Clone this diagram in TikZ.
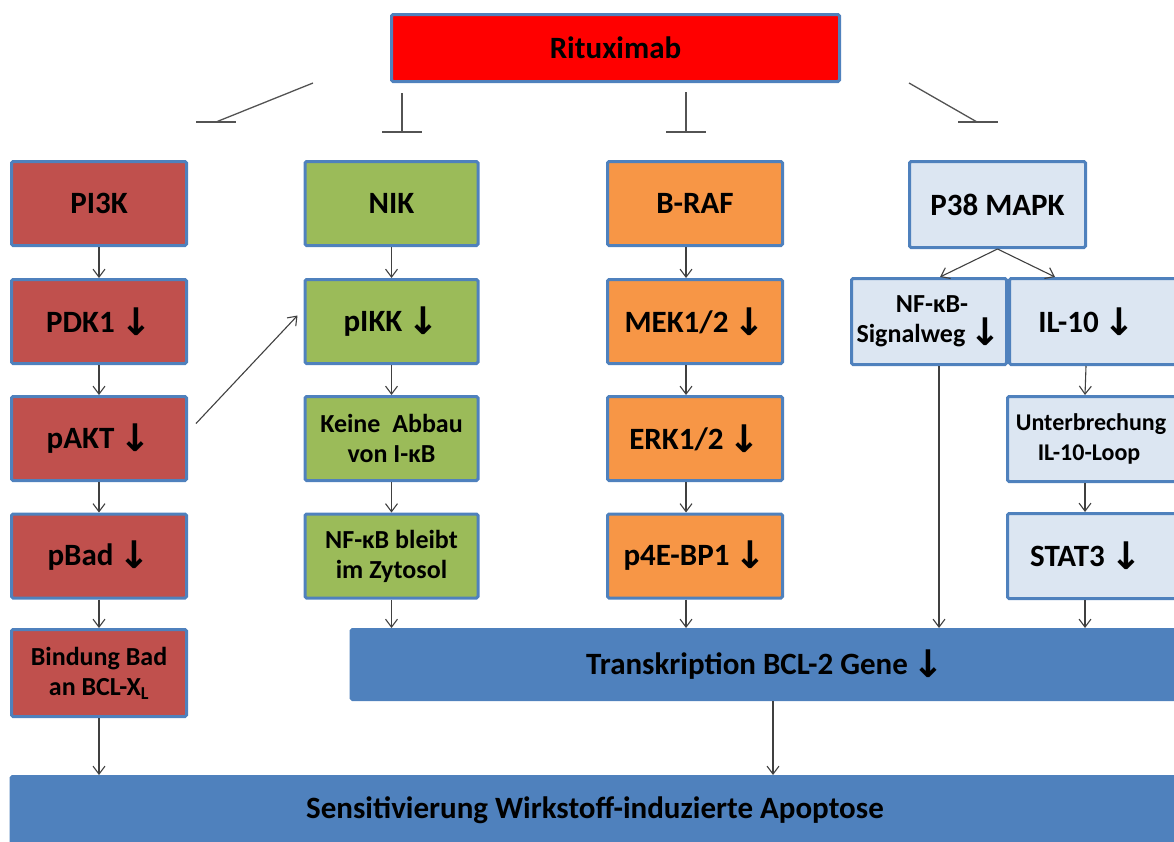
\documentclass[tikz,border=0pt]{standalone}
\usepackage{fontspec}
\setmainfont{Carlito}
\newfontfamily\arrf{DejaVu Sans}
\usetikzlibrary{arrows.meta}
\definecolor{bordc}{RGB}{79,129,189}
\definecolor{bluef}{RGB}{79,129,189}
\definecolor{redf}{RGB}{192,80,77}
\definecolor{greenf}{RGB}{155,187,89}
\definecolor{orangef}{RGB}{247,150,70}
\definecolor{lightf}{RGB}{220,230,242}
\definecolor{linec}{RGB}{64,64,64}
\newcommand\bigf{\fontsize{31}{34}\selectfont\bfseries}
\newcommand\smf{\fontsize{26}{30}\selectfont\bfseries}
\newcommand\unf{\fontsize{24}{30}\selectfont\bfseries}
\newcommand\dn{\,\raisebox{-3pt}{\arrf\fontsize{38}{38}\selectfont ↓}}
\tikzset{
  bx/.style={draw=bordc, line width=3pt, rounded corners=1.5pt, align=center, inner sep=0pt, font=\bigf, text=black},
  rbox/.style={bx, fill=redf, minimum width=175pt, minimum height=84pt},
  gbox/.style={bx, fill=greenf, minimum width=173pt, minimum height=84pt},
  obox/.style={bx, fill=orangef, minimum width=175pt, minimum height=84pt},
  lbox/.style={bx, fill=lightf},
  bbox/.style={bx, draw=bluef, fill=bluef},
  con/.style={draw=linec, line width=1.1pt, -{Straight Barb[length=8pt,width=12pt]}},
  inh/.style={draw=linec!90, line width=1.3pt},
}
\begin{document}
\begin{tikzpicture}[x=1pt,y=-1pt]
\useasboundingbox (0,0) rectangle (1174,841);
\begin{scope}
\clip (0,0) rectangle (1174,841);
% top
\node[bx, fill=red, minimum width=448pt, minimum height=67pt] (rit) at (615.5,48) {Rituximab};
% column 1
\node[rbox] (pi3k) at (99,203.5) {PI3K};
\node[rbox] (pdk1) at (99,321.5) {PDK1\dn};
\node[rbox] (pakt) at (99,438.5) {pAKT\dn};
\node[rbox] (pbad) at (99,556) {pBad\dn};
\node[rbox, minimum height=87pt, font=\smf] (bind) at (99,673) {Bindung Bad\\an BCL-X\textsubscript{L}};
% column 2
\node[gbox] (nik) at (391.5,203.5) {NIK};
\node[gbox] (pikk) at (391.5,321.5) {pIKK\dn};
\node[gbox, font=\smf] (keine) at (391.5,438.5) {Keine\ \ Abbau\\von I-κB};
\node[gbox, font=\smf] (nfkb) at (391.5,556) {NF-κB bleibt\\im Zytosol};
% column 3
\node[obox] (braf) at (695,203.5) {B-RAF};
\node[obox] (mek) at (695,321.5) {MEK1/2\dn};
\node[obox] (erk) at (695,438.5) {ERK1/2\dn};
\node[obox] (p4e) at (695,556) {p4E-BP1\dn};
% column 4
\node[lbox, minimum width=176pt, minimum height=86pt] (p38) at (997.5,204.5) {P38 MAPK};
\node[lbox, minimum width=155pt, minimum height=86pt, font=\smf] (nfs) at (929,321.5) {\hspace*{6pt}NF-κB-\\Signalweg\dn};
\node[lbox, minimum width=167pt, minimum height=86pt] (il10) at (1093,321.5) {\hspace*{-12pt}IL-10\dn};
\node[lbox, minimum width=169pt, minimum height=85pt, font=\unf] (unt) at (1092,439) {\hspace*{-2pt}Unterbrechung\\\hspace*{-6pt}IL-10-Loop};
\node[lbox, minimum width=169pt, minimum height=85pt] (stat) at (1092,556) {\hspace*{-12pt}STAT3\dn};
% bottom
\node[bbox, minimum width=829pt, minimum height=70pt] (trans) at (765.5,664.5) {Transkription BCL-2 Gene\dn};
\node[bbox, minimum width=1168pt, minimum height=67pt] (sens) at (595,810) {Sensitivierung Wirkstoff-induzierte Apoptose};
\end{scope}
% connectors column 1
\draw[con] (pi3k) -- (pdk1);
\draw[con] (pdk1) -- (pakt);
\draw[con] (pakt) -- (pbad);
\draw[con] (pbad) -- (bind);
\draw[con] (bind.south) -- (bind.south |- sens.north);
% column 2
\draw[con] (nik) -- (pikk);
\draw[con] (pikk) -- (keine);
\draw[con] (keine) -- (nfkb);
\draw[con] (nfkb.south) -- (nfkb.south |- trans.north);
% pAKT -> pIKK
\draw[con] ([xshift=8pt,yshift=15pt]pakt.east) -- ([xshift=-6pt,yshift=6pt]pikk.west);
% column 3
\draw[con] ([xshift=-9pt]braf.south) -- ([xshift=-9pt]mek.north);
\draw[con] ([xshift=-9pt]mek.south) -- ([xshift=-9pt]erk.north);
\draw[con] ([xshift=-9pt]erk.south) -- ([xshift=-9pt]p4e.north);
\draw[con] ([xshift=-9pt]p4e.south) -- ([xshift=-9pt]p4e.south |- trans.north);
% column 4
\draw[con] (p38.south) -- ([xshift=11pt]nfs.north);
\draw[con] (p38.south) -- ([xshift=-38pt]il10.north);
\draw[con] ([xshift=-7pt]il10.south) -- ([xshift=-7pt]unt.north);
\draw[con] ([xshift=-7pt]unt.south) -- ([xshift=-7pt]stat.north);
\draw[con] ([xshift=-7pt]stat.south) -- ([xshift=-7pt]stat.south |- trans.north);
\draw[con] ([xshift=10pt]nfs.south) -- ([xshift=10pt]nfs.south |- trans.north);
% transcription -> apoptosis
\draw[con] ([xshift=7.5pt]trans.south) -- ([xshift=7.5pt]trans.south |- sens.north);
% inhibition marks below Rituximab
\coordinate (i1a) at (313,83); \coordinate (i1b) at (216,122);
\coordinate (i2a) at (402,93); \coordinate (i2b) at (402,132);
\coordinate (i3a) at (686,92); \coordinate (i3b) at (686,132);
\coordinate (i4a) at (909,83); \coordinate (i4b) at (977,122);
\draw[inh] (i1a) -- (i1b); \draw[inh] ([xshift=-20pt]i1b) -- ([xshift=20pt]i1b);
\draw[inh] (i2a) -- (i2b); \draw[inh] ([xshift=-20pt]i2b) -- ([xshift=20pt]i2b);
\draw[inh] (i3a) -- (i3b); \draw[inh] ([xshift=-20pt]i3b) -- ([xshift=20pt]i3b);
\draw[inh] (i4a) -- (i4b); \draw[inh] ([xshift=-19pt]i4b) -- ([xshift=21pt]i4b);
\end{tikzpicture}
\end{document}
